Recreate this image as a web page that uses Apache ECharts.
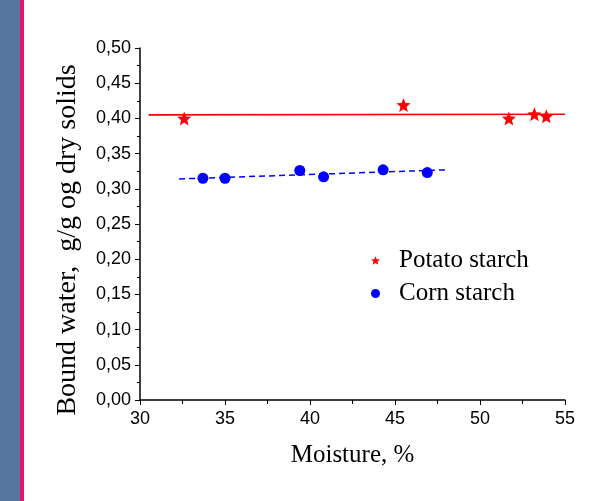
<!DOCTYPE html>
<html>
<head>
<meta charset="utf-8">
<script src="https://cdn.jsdelivr.net/npm/echarts@6/dist/echarts.min.js"></script>
<style>
  html, body { margin: 0; padding: 0; background: #fff; }
  #chart { width: 604px; height: 501px; }
</style>
</head>
<body>
<div id="chart"></div>
<script>
// measured points
const potatoMoisture = [32.6, 45.5, 51.7, 53.2, 53.9]
const potatoWater = [0.400, 0.419, 0.400, 0.406, 0.403]
const cornMoisture = [33.7, 35.0, 39.4, 40.8, 44.3, 46.9]
const cornWater = [0.315, 0.315, 0.326, 0.317, 0.327, 0.323]
// fitted lines (start / end)
const potatoFitX = [30.5, 55.0]
const potatoFitY = [0.405, 0.406]
const cornFitX = [32.3, 48.1]
const cornFitY = [0.314, 0.327]

const seriesNames = ['Potato starch', 'Corn starch']
const starPath = 'path://M50,0 L62.93,32.2 L97.55,34.55 L70.92,56.8 L79.39,90.45 L50,72 L20.61,90.45 L29.08,56.8 L2.45,34.55 L37.07,32.2 Z'
const tickFont = '"Liberation Sans", Arial, sans-serif'
const serifFont = '"Liberation Serif", "Times New Roman", serif'

const zip = (xs, ys) => xs.map((x, i) => [x, ys[i]])

const chart = echarts.init(document.getElementById('chart'))
chart.setOption({
  backgroundColor: '#fff',
  animation: false,
  graphic: [
    // left decoration strip
    { type: 'rect', left: 0, top: 0, shape: { width: 20, height: 501 }, style: { fill: '#56779f' }, silent: true },
    { type: 'rect', left: 20, top: 0, shape: { width: 4, height: 501 }, style: { fill: '#f0106c' }, silent: true },
    {
      type: 'text',
      x: 68,
      y: 240,
      rotation: Math.PI / 2,
      style: {
        text: 'Bound water,  g/g og dry solids',
        font: '28px ' + serifFont,
        fill: '#000',
        align: 'center',
        verticalAlign: 'middle'
      }
    }
  ],
  grid: { left: 140, right: 39, top: 48, bottom: 101 },
  legend: {
    orient: 'vertical',
    left: 366,
    top: 243,
    itemGap: 8,
    itemWidth: 9,
    itemHeight: 9,
    textStyle: { fontFamily: serifFont, fontSize: 25, color: '#000', padding: [0, 0, 0, 14] },
    data: [
      { name: seriesNames[0], icon: starPath, itemStyle: { color: '#ff0000' } },
      { name: seriesNames[1], icon: 'circle', itemStyle: { color: '#0000ff' } }
    ]
  },
  xAxis: {
    type: 'value',
    min: 30,
    max: 55,
    interval: 5,
    name: 'Moisture, %',
    nameLocation: 'middle',
    nameGap: 43,
    nameTextStyle: { fontFamily: serifFont, fontSize: 25, color: '#000' },
    axisLine: { lineStyle: { color: '#000', width: 1.5 } },
    axisTick: { length: 5, lineStyle: { color: '#000' } },
    minorTick: { show: true, splitNumber: 2, length: 4, lineStyle: { color: '#000' } },
    axisLabel: { margin: 10, fontFamily: tickFont, fontSize: 18, color: '#000' },
    splitLine: { show: false }
  },
  yAxis: {
    type: 'value',
    min: 0,
    max: 0.5,
    interval: 0.05,
    axisLine: { show: true, lineStyle: { color: '#000', width: 1.5 } },
    axisTick: { show: true, length: 5, lineStyle: { color: '#000' } },
    minorTick: { show: true, splitNumber: 2, length: 3, lineStyle: { color: '#000' } },
    axisLabel: {
      margin: 9,
      fontFamily: tickFont,
      fontSize: 18,
      color: '#000',
      formatter: v => v.toFixed(2).replace('.', ',')
    },
    splitLine: { show: false }
  },
  series: [
    {
      name: 'Potato fit',
      type: 'line',
      data: zip(potatoFitX, potatoFitY),
      showSymbol: false,
      lineStyle: { color: '#ff0000', width: 1.6 },
      z: 1
    },
    {
      name: 'Corn fit',
      type: 'line',
      data: zip(cornFitX, cornFitY),
      showSymbol: false,
      lineStyle: { color: '#0000ff', width: 1.5, type: [6, 4] },
      z: 1
    },
    {
      name: seriesNames[0],
      type: 'scatter',
      data: zip(potatoMoisture, potatoWater),
      symbol: starPath,
      symbolSize: 14,
      itemStyle: { color: '#ff0000', opacity: 1 },
      z: 3
    },
    {
      name: seriesNames[1],
      type: 'scatter',
      data: zip(cornMoisture, cornWater),
      symbol: 'circle',
      symbolSize: 11,
      itemStyle: { color: '#0000ff', opacity: 1 },
      z: 3
    }
  ]
})
</script>
</body>
</html>
